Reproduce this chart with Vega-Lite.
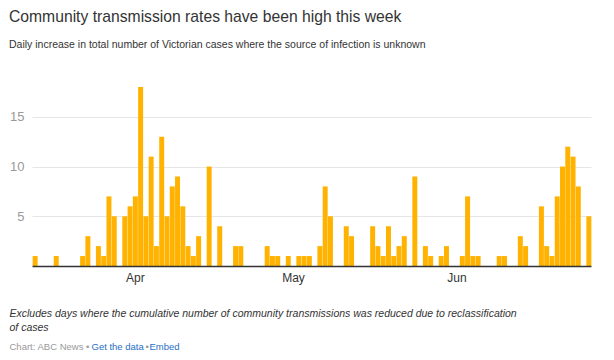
{
  "$schema": "https://vega.github.io/schema/vega-lite/v6.json",
  "width": 559,
  "height": 179,
  "autosize": {"type": "none"},
  "padding": {"left": 32, "top": 87, "right": 23, "bottom": 94},
  "background": "#ffffff",
  "config": {"view": {"stroke": null}, "font": "Liberation Sans"},
  "title": {
    "text": "Community transmission rates have been high this week",
    "subtitle": "Daily increase in total number of Victorian cases where the source of infection is unknown",
    "anchor": "start",
    "frame": "group",
    "dx": -23,
    "offset": 35.5,
    "font": "Liberation Sans",
    "fontSize": 15.7,
    "fontWeight": "normal",
    "color": "#333333",
    "subtitleFont": "Liberation Sans",
    "subtitleFontSize": 10.5,
    "subtitleColor": "#333333",
    "subtitlePadding": 14.5
  },
  "data": {
    "format": {"parse": {"date": "utc:'%Y-%m-%d'"}},
    "values": [
      {"date": "2020-03-13", "value": 1},
      {"date": "2020-03-17", "value": 1},
      {"date": "2020-03-22", "value": 1},
      {"date": "2020-03-23", "value": 3},
      {"date": "2020-03-25", "value": 2},
      {"date": "2020-03-26", "value": 1},
      {"date": "2020-03-27", "value": 7},
      {"date": "2020-03-28", "value": 5},
      {"date": "2020-03-30", "value": 5},
      {"date": "2020-03-31", "value": 6},
      {"date": "2020-04-01", "value": 7},
      {"date": "2020-04-02", "value": 18},
      {"date": "2020-04-03", "value": 5},
      {"date": "2020-04-04", "value": 11},
      {"date": "2020-04-05", "value": 2},
      {"date": "2020-04-06", "value": 13},
      {"date": "2020-04-07", "value": 5},
      {"date": "2020-04-08", "value": 8},
      {"date": "2020-04-09", "value": 9},
      {"date": "2020-04-10", "value": 6},
      {"date": "2020-04-11", "value": 2},
      {"date": "2020-04-12", "value": 1},
      {"date": "2020-04-13", "value": 3},
      {"date": "2020-04-15", "value": 10},
      {"date": "2020-04-17", "value": 4},
      {"date": "2020-04-20", "value": 2},
      {"date": "2020-04-21", "value": 2},
      {"date": "2020-04-26", "value": 2},
      {"date": "2020-04-27", "value": 1},
      {"date": "2020-04-28", "value": 1},
      {"date": "2020-04-30", "value": 1},
      {"date": "2020-05-02", "value": 1},
      {"date": "2020-05-03", "value": 1},
      {"date": "2020-05-04", "value": 1},
      {"date": "2020-05-06", "value": 2},
      {"date": "2020-05-07", "value": 8},
      {"date": "2020-05-08", "value": 5},
      {"date": "2020-05-11", "value": 4},
      {"date": "2020-05-12", "value": 3},
      {"date": "2020-05-16", "value": 4},
      {"date": "2020-05-17", "value": 2},
      {"date": "2020-05-18", "value": 1},
      {"date": "2020-05-19", "value": 4},
      {"date": "2020-05-20", "value": 1},
      {"date": "2020-05-21", "value": 2},
      {"date": "2020-05-22", "value": 3},
      {"date": "2020-05-24", "value": 9},
      {"date": "2020-05-26", "value": 2},
      {"date": "2020-05-27", "value": 1},
      {"date": "2020-05-29", "value": 1},
      {"date": "2020-05-30", "value": 2},
      {"date": "2020-06-02", "value": 1},
      {"date": "2020-06-03", "value": 7},
      {"date": "2020-06-04", "value": 1},
      {"date": "2020-06-05", "value": 1},
      {"date": "2020-06-09", "value": 1},
      {"date": "2020-06-10", "value": 1},
      {"date": "2020-06-13", "value": 3},
      {"date": "2020-06-14", "value": 2},
      {"date": "2020-06-17", "value": 6},
      {"date": "2020-06-18", "value": 2},
      {"date": "2020-06-19", "value": 1},
      {"date": "2020-06-20", "value": 7},
      {"date": "2020-06-21", "value": 10},
      {"date": "2020-06-22", "value": 12},
      {"date": "2020-06-23", "value": 11},
      {"date": "2020-06-24", "value": 8},
      {"date": "2020-06-26", "value": 5}
    ]
  },
  "resolve": {
    "scale": {"x": "independent", "y": "independent"},
    "axis": {"x": "independent", "y": "independent"}
  },
  "layer": [
    {
      "mark": {"type": "bar", "color": "#ffb300", "binSpacing": 0.3},
      "encoding": {
        "x": {
          "field": "date",
          "type": "temporal",
          "timeUnit": "utcyearmonthdate",
          "scale": {
            "domain": [
              {"year": 2020, "month": 3, "date": 13, "utc": true},
              {"year": 2020, "month": 6, "date": 27, "utc": true}
            ],
            "nice": false
          },
          "axis": {
            "orient": "bottom",
            "values": [
              {"year": 2020, "month": 4, "date": 1, "utc": true},
              {"year": 2020, "month": 5, "date": 1, "utc": true},
              {"year": 2020, "month": 6, "date": 1, "utc": true}
            ],
            "format": "%b",
            "labelFont": "Liberation Sans",
            "labelFontSize": 12,
            "labelColor": "#333333",
            "labelOffset": 2.6,
            "labelPadding": 6,
            "labelFlush": false,
            "labelOverlap": false,
            "ticks": false,
            "tickSize": 0,
            "domain": true,
            "domainColor": "#333333",
            "domainWidth": 1.5,
            "grid": false,
            "zindex": 1,
            "title": [
              "Excludes days where the cumulative number of community transmissions was reduced due to reclassification",
              "of cases"
            ],
            "titleFont": "Liberation Sans",
            "titleFontSize": 10.5,
            "titleFontStyle": "italic",
            "titleFontWeight": "normal",
            "titleColor": "#333333",
            "titleAnchor": "start",
            "titleAlign": "left",
            "titleBaseline": "alphabetic",
            "titleLineHeight": 14,
            "titleX": -23,
            "titleY": 50.5
          }
        },
        "y": {
          "field": "value",
          "type": "quantitative",
          "scale": {"domain": [0, 18], "nice": false},
          "axis": {
            "orient": "left",
            "values": [5, 10, 15],
            "labelFont": "Liberation Sans",
            "labelFontSize": 13,
            "labelColor": "#999999",
            "labelPadding": 8,
            "ticks": false,
            "tickSize": 0,
            "domain": false,
            "grid": true,
            "gridColor": "#e6e6e6",
            "gridWidth": 1,
            "title": null
          }
        }
      }
    },
    {
      "mark": {"type": "bar", "opacity": 0},
      "encoding": {
        "x": {
          "field": "date",
          "type": "temporal",
          "axis": {
            "orient": "bottom",
            "labels": false,
            "ticks": false,
            "domain": false,
            "grid": false,
            "title": "Chart: ABC News •",
            "titleFont": "Liberation Sans",
            "titleFontSize": 9.5,
            "titleFontWeight": "normal",
            "titleColor": "#999999",
            "titleAlign": "left",
            "titleBaseline": "alphabetic",
            "titleX": -23,
            "titleY": 83.5
          }
        },
        "y": {
          "field": "value",
          "type": "quantitative",
          "axis": {
            "orient": "left",
            "labels": false,
            "ticks": false,
            "domain": false,
            "grid": false,
            "title": "Get the data",
            "titleAngle": 0,
            "titleFont": "Liberation Sans",
            "titleFontSize": 9.5,
            "titleFontWeight": "normal",
            "titleColor": "#1f6fc5",
            "titleAlign": "left",
            "titleBaseline": "alphabetic",
            "titleX": 59,
            "titleY": 262.5
          }
        }
      }
    },
    {
      "mark": {"type": "bar", "opacity": 0},
      "encoding": {
        "x": {
          "field": "date",
          "type": "temporal",
          "axis": {
            "orient": "bottom",
            "labels": false,
            "ticks": false,
            "domain": false,
            "grid": false,
            "title": "•",
            "titleFont": "Liberation Sans",
            "titleFontSize": 9.5,
            "titleFontWeight": "normal",
            "titleColor": "#999999",
            "titleAlign": "left",
            "titleBaseline": "alphabetic",
            "titleX": 113,
            "titleY": 83.5
          }
        },
        "y": {
          "field": "value",
          "type": "quantitative",
          "axis": {
            "orient": "left",
            "labels": false,
            "ticks": false,
            "domain": false,
            "grid": false,
            "title": "Embed",
            "titleAngle": 0,
            "titleFont": "Liberation Sans",
            "titleFontSize": 9.5,
            "titleFontWeight": "normal",
            "titleColor": "#1f6fc5",
            "titleAlign": "left",
            "titleBaseline": "alphabetic",
            "titleX": 117,
            "titleY": 262.5
          }
        }
      }
    }
  ]
}
